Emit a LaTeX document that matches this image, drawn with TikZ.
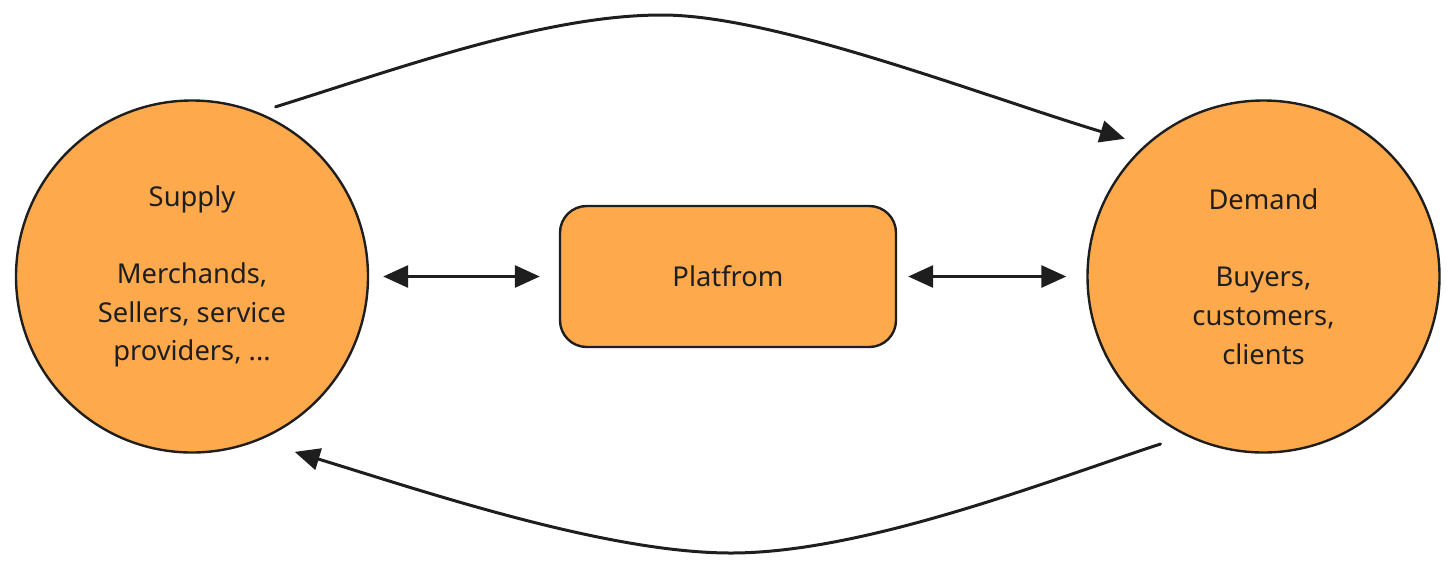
\documentclass[tikz,border=0pt]{standalone}
\usepackage{fontspec}
\setmainfont{Noto Sans}
\usetikzlibrary{arrows.meta}

\definecolor{inkgrey}{RGB}{30,30,30}
\definecolor{sideorange}{RGB}{255,169,77}

\tikzset{every picture/.style={line width=0.75pt}}

\begin{document}
\begin{tikzpicture}[x=0.75pt,y=0.75pt,yscale=-1,xscale=1,
  bubble/.style={circle, draw=inkgrey, fill=sideorange, line width=1.8, minimum size=264pt, inner sep=0pt, align=center, text=inkgrey, font=\fontsize{20.5}{29}\selectfont},
  flow/.style={draw=inkgrey, line width=2.25, line cap=round, -{Triangle[length=18.75pt,width=16.5pt]}},
  twoway/.style={flow, {Triangle[length=18.75pt,width=16.5pt]}-{Triangle[length=18.75pt,width=16.5pt]}}]
\useasboundingbox (0,0) rectangle (1456,568);

%Shape: Circle [id:supply]
\node (supply) [bubble] at (192,276.5) {Supply\\[29pt]Merchands,\\Sellers, service\\providers, ...};
%Shape: Circle [id:demand]
\node (demand) [bubble] at (1263.5,276.5) {Demand\\[29pt]Buyers,\\customers,\\clients};
%Shape: Rounded Rect [id:platform]
\node (platform) [draw=inkgrey, fill=sideorange, line width=1.8, rounded corners=20pt, minimum width=252pt, minimum height=105.75pt, text=inkgrey, font=\fontsize{20.5}{29}\selectfont] at (728,276.5) {Platfrom};

%Straight Lines [id:supply-platform]
\draw [twoway, shorten <=10.5pt, shorten >=14.25pt] (supply) -- (platform);
%Straight Lines [id:platform-demand]
\draw [twoway, shorten <=8.25pt, shorten >=15pt] (platform) -- (demand);

%Curve Lines [id:top]
\draw [flow, shorten <=13.5pt, shorten >=15.7pt] (supply.68) .. controls (400,68) and (545,15) .. (662,15) .. controls (775,15) and (980,95) .. (demand.132);
%Curve Lines [id:bottom]
\draw [flow, shorten <=20pt, shorten >=28.5pt] (demand.244.4) .. controls (1050,480) and (865,553) .. (731,553) .. controls (605,553) and (420,490) .. (supply.292.4);

\end{tikzpicture}
\end{document}
